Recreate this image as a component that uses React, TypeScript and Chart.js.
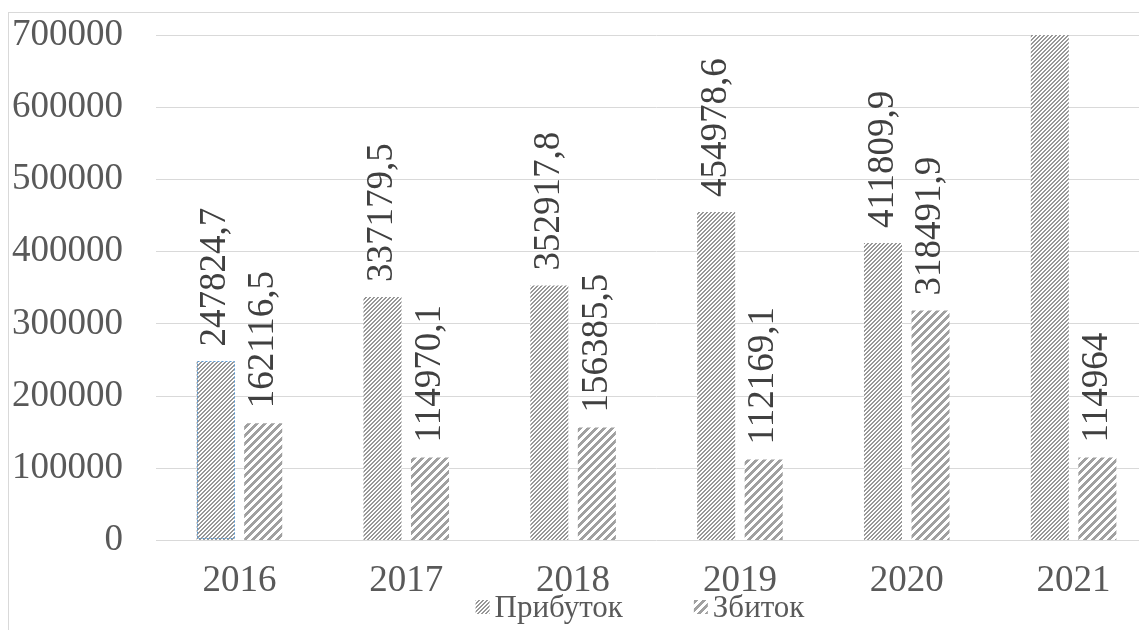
import React, { useEffect, useRef } from "react";
import { Chart, registerables } from "chart.js";

Chart.register(...registerables);

const categories = ["2016", "2017", "2018", "2019", "2020", "2021"];
const profitValues = [247824.7, 337179.5, 352917.8, 454978.6, 411809.9, 745000];
const lossValues = [162116.5, 114970.1, 156385.5, 112169.1, 318491.9, 114964];
const seriesNames = ["Прибуток", "Збиток"];
const yMin = 0;
const yMax = 700000;
const yStep = 100000;

const FONT = '"Liberation Serif", "Times New Roman", serif';
const CANVAS_W = 1200;
const CANVAS_H = 620;

function makePattern(size: number, band: number, color: string): CanvasPattern | string {
  const c = document.createElement("canvas");
  c.width = size;
  c.height = size;
  const ctx = c.getContext("2d");
  if (!ctx) return color;
  ctx.fillStyle = "#ffffff";
  ctx.fillRect(0, 0, size, size);
  ctx.fillStyle = color;
  for (let y = 0; y < size; y++) {
    for (let x = 0; x < size; x++) {
      if ((x + y) % size < band) ctx.fillRect(x, y, 1, 1);
    }
  }
  return ctx.createPattern(c, "repeat") || color;
}

const fmt = (v: number) => String(v).replace(".", ",");

const labelPlugin = {
  id: "barLabels",
  afterDatasetsDraw(chart: any) {
    const ctx = chart.ctx;
    const yScale = chart.scales.y;
    chart.data.datasets.forEach((ds: any, di: number) => {
      const meta = chart.getDatasetMeta(di);
      meta.data.forEach((el: any, i: number) => {
        const v = ds.data[i];
        if (v > yScale.max) return;
        const { x, y } = el.getProps(["x", "y"], true);
        ctx.save();
        ctx.translate(x, y - 15);
        ctx.rotate(-Math.PI / 2);
        ctx.font = `37px ${FONT}`;
        ctx.fillStyle = "#404040";
        ctx.textAlign = "left";
        ctx.textBaseline = "middle";
        ctx.fillText(fmt(v), 0, 0);
        ctx.restore();
      });
    });
  },
};

const selectionPlugin = {
  id: "selectionOutline",
  afterDatasetsDraw(chart: any) {
    const meta = chart.getDatasetMeta(0);
    const el = meta.data[0];
    if (!el) return;
    const { x, y, width, base } = el.getProps(["x", "y", "width", "base"], true);
    const ctx = chart.ctx;
    ctx.save();
    ctx.strokeStyle = "#5b9bd5";
    ctx.lineWidth = 1;
    ctx.setLineDash([2, 2]);
    ctx.strokeRect(Math.round(x - width / 2) + 0.5, Math.round(y) + 0.5, Math.round(width) - 1, Math.round(base - y) - 1);
    ctx.restore();
  },
};

const legendPlugin = {
  id: "customLegend",
  afterDraw(chart: any) {
    const ctx = chart.ctx;
    ctx.save();
    ctx.font = `31px ${FONT}`;
    ctx.textBaseline = "alphabetic";
    ctx.textAlign = "left";
    const box = 14;
    const gapText = 5;
    const gapItem = 71;
    const widths = chart.data.datasets.map((d: any) => ctx.measureText(d.label).width);
    let total = 0;
    widths.forEach((w: number, i: number) => {
      total += box + gapText + w + (i < widths.length - 1 ? gapItem : 0);
    });
    const center = 631;
    let x = center - total / 2;
    const baseline = 604;
    chart.data.datasets.forEach((d: any, i: number) => {
      ctx.fillStyle = d.backgroundColor;
      ctx.fillRect(x, baseline - 17, box, box);
      x += box + gapText;
      ctx.fillStyle = "#595959";
      ctx.fillText(d.label, x, baseline);
      x += widths[i] + gapItem;
    });
    ctx.restore();
  },
};

export default function App() {
  const ref = useRef<HTMLCanvasElement | null>(null);

  useEffect(() => {
    let chart: Chart | null = null;
    let cancelled = false;
    const build = () => {
      if (cancelled || !ref.current) return;
      const profitPattern = makePattern(4, 2, "#979797");
      const lossPattern = makePattern(8, 4, "#a0a0a0");
      chart = new Chart(ref.current, {
        type: "bar",
        data: {
          labels: categories,
          datasets: [
            {
              label: seriesNames[0],
              data: profitValues,
              backgroundColor: profitPattern as any,
              borderWidth: 0,
              categoryPercentage: 0.57,
              barPercentage: 0.8,
              clip: 0,
            } as any,
            {
              label: seriesNames[1],
              data: lossValues,
              backgroundColor: lossPattern as any,
              borderWidth: 0,
              categoryPercentage: 0.57,
              barPercentage: 0.8,
              clip: 0,
            } as any,
          ],
        },
        options: {
          animation: false,
          responsive: false,
          maintainAspectRatio: false,
          devicePixelRatio: 1,
          layout: { padding: { top: 22, right: CANVAS_W - 1148, bottom: 0, left: 0 } },
          plugins: {
            legend: { display: false },
            tooltip: { enabled: false },
            title: { display: false },
          },
          scales: {
            x: {
              grid: { display: false, drawTicks: false },
              border: { display: false },
              ticks: {
                color: "#595959",
                font: { family: FONT, size: 37 },
                padding: 19,
                maxRotation: 0,
              },
              afterFit(scale: any) {
                scale.height = CANVAS_H - 527.4;
                scale.paddingLeft = 0;
                scale.paddingRight = 0;
              },
            },
            y: {
              min: yMin,
              max: yMax,
              grid: { color: "#d9d9d9", lineWidth: 1, drawTicks: false },
              border: { display: false },
              ticks: {
                stepSize: yStep,
                color: "#595959",
                font: { family: FONT, size: 37, lineHeight: 1.0 },
                padding: 33,
                callback: (v: any) => String(v),
              },
              afterFit(scale: any) {
                scale.width = 147;
                scale.paddingTop = 0;
                scale.paddingBottom = 0;
              },
            },
          },
        },
        plugins: [labelPlugin, selectionPlugin, legendPlugin],
      });
    };
    const fontsApi: any = (document as any).fonts;
    if (fontsApi && fontsApi.load) {
      Promise.all([
        fontsApi.load('37px "Liberation Serif"'),
        fontsApi.load('31px "Liberation Serif"', "Прибуток Збиток"),
      ])
        .catch(() => undefined)
        .then(build);
    } else {
      build();
    }
    return () => {
      cancelled = true;
      if (chart) chart.destroy();
    };
  }, []);

  return (
    <div style={{ position: "relative", width: 1139, height: 622, overflow: "hidden" }}>
      <div
        style={{
          position: "absolute",
          top: 4,
          left: 0,
          border: "1px solid #d9d9d9",
          width: CANVAS_W,
          height: CANVAS_H,
          background: "#ffffff",
        }}
      >
        <canvas
          ref={ref}
          width={CANVAS_W}
          height={CANVAS_H}
          style={{ display: "block", width: CANVAS_W, height: CANVAS_H }}
        />
      </div>
    </div>
  );
}
